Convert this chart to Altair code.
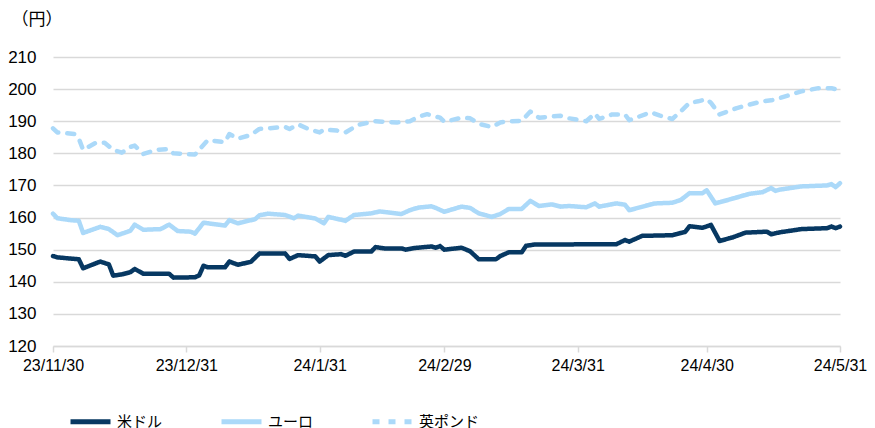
import altair as alt
import pandas as pd

series_names = ["米ドル", "ユーロ", "英ポンド"]

usd_dates = ["2023-11-30", "2023-12-01", "2023-12-06", "2023-12-07", "2023-12-11", "2023-12-13",
             "2023-12-14", "2023-12-16", "2023-12-18", "2023-12-19", "2023-12-21", "2023-12-27",
             "2023-12-28", "2024-01-02", "2024-01-03", "2024-01-04", "2024-01-05", "2024-01-09",
             "2024-01-10", "2024-01-12", "2024-01-15", "2024-01-17", "2024-01-23", "2024-01-24",
             "2024-01-26", "2024-01-30", "2024-01-31", "2024-02-02", "2024-02-05", "2024-02-06",
             "2024-02-08", "2024-02-12", "2024-02-13", "2024-02-15", "2024-02-19", "2024-02-20",
             "2024-02-22", "2024-02-26", "2024-02-27", "2024-02-28", "2024-02-29", "2024-03-04",
             "2024-03-06", "2024-03-08", "2024-03-12", "2024-03-13", "2024-03-15", "2024-03-18",
             "2024-03-19", "2024-03-21", "2024-04-09", "2024-04-11", "2024-04-12", "2024-04-15",
             "2024-04-22", "2024-04-24", "2024-04-25", "2024-04-26", "2024-04-29", "2024-05-01",
             "2024-05-03", "2024-05-06", "2024-05-09", "2024-05-14", "2024-05-15", "2024-05-17",
             "2024-05-22", "2024-05-28", "2024-05-29", "2024-05-30", "2024-05-31"]
usd_values = [148.0, 147.6, 147.0, 144.2, 146.3, 145.4,
              141.9, 142.3, 143.0, 144.0, 142.5, 142.5,
              141.3, 141.4, 142.0, 145.0, 144.5, 144.5,
              146.3, 145.3, 146.2, 148.8, 148.8, 147.1,
              148.3, 147.9, 146.3, 148.3, 148.6, 148.1,
              149.4, 149.4, 150.8, 150.4, 150.4, 150.0,
              150.5, 151.0, 150.6, 151.1, 150.0, 150.6,
              149.5, 147.0, 147.0, 148.0, 149.2, 149.2,
              151.2, 151.6, 151.7, 153.0, 152.5, 154.3,
              154.5, 155.2, 155.5, 157.3, 156.8, 157.7,
              152.7, 153.8, 155.3, 155.6, 154.8, 155.4,
              156.4, 156.7, 157.2, 156.7, 157.2]

eur_dates = ["2023-11-30", "2023-12-01", "2023-12-04", "2023-12-06", "2023-12-07", "2023-12-11",
             "2023-12-13", "2023-12-15", "2023-12-18", "2023-12-19", "2023-12-21", "2023-12-25",
             "2023-12-27", "2023-12-29", "2024-01-01", "2024-01-02", "2024-01-04", "2024-01-09",
             "2024-01-10", "2024-01-12", "2024-01-16", "2024-01-17", "2024-01-19", "2024-01-23",
             "2024-01-25", "2024-01-26", "2024-01-30", "2024-02-01", "2024-02-02", "2024-02-06",
             "2024-02-08", "2024-02-12", "2024-02-14", "2024-02-19", "2024-02-21", "2024-02-23",
             "2024-02-26", "2024-02-27", "2024-02-29", "2024-03-04", "2024-03-06", "2024-03-08",
             "2024-03-11", "2024-03-13", "2024-03-15", "2024-03-18", "2024-03-20", "2024-03-22",
             "2024-03-25", "2024-03-27", "2024-03-29", "2024-04-02", "2024-04-04", "2024-04-05",
             "2024-04-09", "2024-04-11", "2024-04-12", "2024-04-16", "2024-04-18", "2024-04-22",
             "2024-04-24", "2024-04-26", "2024-04-29", "2024-04-30", "2024-05-02", "2024-05-05",
             "2024-05-10", "2024-05-13", "2024-05-15", "2024-05-16", "2024-05-17", "2024-05-22",
             "2024-05-28", "2024-05-29", "2024-05-30", "2024-05-31"]
eur_values = [161.2, 159.8, 159.2, 159.0, 155.2, 157.1,
              156.4, 154.5, 155.9, 157.8, 156.2, 156.4,
              157.8, 155.8, 155.6, 155.0, 158.4, 157.5,
              159.2, 158.2, 159.5, 160.7, 161.2, 160.8,
              159.8, 160.6, 159.7, 158.2, 160.2, 159.0,
              160.8, 161.3, 161.9, 161.1, 162.3, 163.1,
              163.5, 163.0, 161.8, 163.4, 163.0, 161.3,
              160.2, 161.1, 162.7, 162.7, 165.2, 163.6,
              164.1, 163.4, 163.6, 163.2, 164.4, 163.4,
              164.4, 164.0, 162.3, 163.7, 164.4, 164.6,
              165.5, 167.6, 167.6, 168.5, 164.4, 165.5,
              167.4, 167.9, 169.2, 168.3, 168.7, 169.7,
              170.0, 170.4, 169.5, 170.7]

gbp_dates = ["2023-11-30", "2023-12-01", "2023-12-03", "2023-12-05", "2023-12-06", "2023-12-07",
             "2023-12-10", "2023-12-12", "2023-12-14", "2023-12-16", "2023-12-18", "2023-12-19",
             "2023-12-21", "2023-12-24", "2023-12-27", "2023-12-28", "2024-01-02", "2024-01-05",
             "2024-01-09", "2024-01-10", "2024-01-12", "2024-01-15", "2024-01-17", "2024-01-23",
             "2024-01-24", "2024-01-26", "2024-01-28", "2024-01-31", "2024-02-01", "2024-02-04",
             "2024-02-06", "2024-02-09", "2024-02-13", "2024-02-18", "2024-02-21", "2024-02-23",
             "2024-02-25", "2024-02-28", "2024-02-29", "2024-03-04", "2024-03-06", "2024-03-08",
             "2024-03-11", "2024-03-13", "2024-03-15", "2024-03-18", "2024-03-20", "2024-03-22",
             "2024-03-27", "2024-03-29", "2024-04-02", "2024-04-04", "2024-04-05", "2024-04-08",
             "2024-04-11", "2024-04-12", "2024-04-17", "2024-04-19", "2024-04-22", "2024-04-24",
             "2024-04-26", "2024-04-28", "2024-04-30", "2024-05-01", "2024-05-03", "2024-05-07",
             "2024-05-10", "2024-05-13", "2024-05-15", "2024-05-17", "2024-05-22", "2024-05-26",
             "2024-05-29", "2024-05-31"]
gbp_values = [187.8, 186.5, 186.3, 186.0, 184.6, 181.1,
              183.3, 183.3, 181.1, 180.2, 182.0, 182.4,
              179.8, 181.1, 181.3, 180.0, 179.6, 184.1,
              183.5, 186.0, 184.6, 185.7, 187.6, 188.2,
              187.6, 189.0, 187.8, 186.5, 187.4, 187.1,
              186.5, 188.9, 190.0, 189.6, 190.0, 191.4,
              192.2, 191.1, 189.8, 191.1, 190.9, 189.2,
              188.2, 189.6, 190.0, 190.1, 193.0, 191.1,
              191.7, 190.9, 190.0, 192.4, 190.7, 192.1,
              192.1, 190.3, 192.8, 191.8, 190.7, 193.1,
              195.7, 196.2, 196.9, 195.7, 192.1, 194.1,
              195.2, 196.2, 196.5, 197.2, 199.3, 200.3,
              200.3, 199.6]

tick_dates = ["2023-11-30", "2023-12-31", "2024-01-31", "2024-02-29",
              "2024-03-31", "2024-04-30", "2024-05-31"]
y_ticks = [120, 130, 140, 150, 160, 170, 180, 190, 200, 210]

rows = []
for name, ds, vs in zip(series_names,
                        [usd_dates, eur_dates, gbp_dates],
                        [usd_values, eur_values, gbp_values]):
    for d, v in zip(ds, vs):
        rows.append({"series": name, "date": d, "value": v})
df = pd.DataFrame(rows)


def dt(s):
    y, m, d = map(int, s.split("-"))
    return alt.DateTime(year=y, month=m, date=d, utc=True)


navy = "#073862"
light = "#ABD9F9"
grid = "#D9D9D9"
num_font = "Liberation Sans"
jp_font = "Noto Sans CJK JP"

legend = alt.Legend(
    title=None, orient="none", legendX=15, legendY=342, direction="horizontal",
    symbolType="stroke", symbolSize=1600, symbolStrokeWidth=5,
    labelFont=jp_font, labelFontSize=15, labelColor="black", labelOffset=4,
    columnPadding=48, padding=0,
)

chart = alt.Chart(df).mark_line(
    strokeWidth=4.5, strokeCap="round", strokeJoin="round"
).encode(
    x=alt.X("date:T",
            scale=alt.Scale(type="utc", domain=[dt(tick_dates[0]), dt(tick_dates[-1])]),
            axis=alt.Axis(values=[dt(s) for s in tick_dates],
                          labelExpr="utcFormat(datum.value, '%y/%-m/%d')",
                          title=None, grid=False, domainColor=grid, domainWidth=1.5,
                          tickColor=grid, tickSize=6, tickWidth=1.5, labelPadding=5,
                          labelFont=num_font, labelFontSize=16, labelColor="black",
                          labelFlush=False)),
    y=alt.Y("value:Q",
            scale=alt.Scale(domain=[120, 210], nice=False, zero=False),
            axis=alt.Axis(values=y_ticks, title="（円）", titleAngle=0, titleAlign="left",
                          titleBaseline="middle", titleX=-42, titleY=-38,
                          titleFont=jp_font, titleFontSize=17, titleFontWeight="normal",
                          titleColor="black",
                          domain=False, ticks=False, tickSize=0, labelPadding=17,
                          labelFont=num_font, labelFontSize=17, labelColor="black",
                          grid=True, gridColor=grid, gridWidth=1.5)),
    color=alt.Color("series:N", sort=series_names,
                    scale=alt.Scale(domain=series_names, range=[navy, light, light]),
                    legend=legend),
    strokeDash=alt.StrokeDash("series:N", sort=series_names,
                              scale=alt.Scale(domain=series_names,
                                              range=[[1, 0], [1, 0], [7, 9]]),
                              legend=legend),
).properties(
    width=787, height=289, autosize="none",
    padding={"left": 45, "top": 49, "right": 27, "bottom": 82},
).configure_view(stroke=None)

chart.save("out.html", embed_options={"renderer": "svg", "actions": False})
